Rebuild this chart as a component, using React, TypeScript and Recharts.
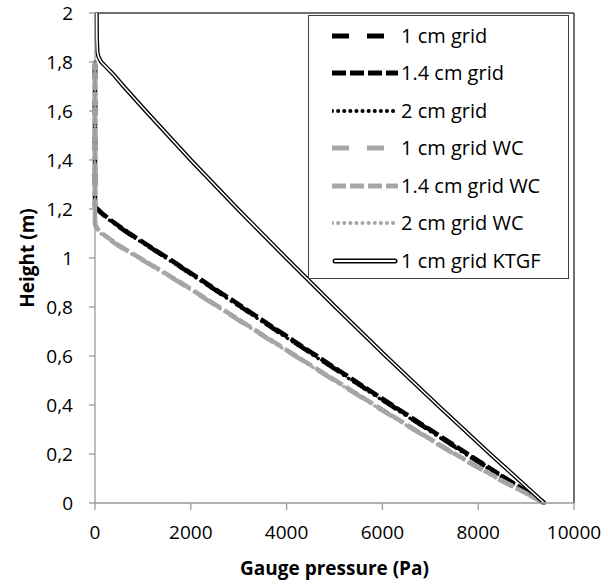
import React from 'react';
import { LineChart, Line, XAxis, YAxis, ReferenceLine, Legend } from 'recharts';

// axis ticks
const xTicks = [0, 2000, 4000, 6000, 8000, 10000];
const yTicks = [0, 0.2, 0.4, 0.6, 0.8, 1, 1.2, 1.4, 1.6, 1.8, 2];

// heights (m) for the plain grid runs
const gridHeights = [0, 0.1, 0.2, 0.3, 0.4, 0.5, 0.6, 0.7, 0.8, 0.9, 1.0, 1.1, 1.15, 1.18, 1.2, 1.21, 1.4, 1.6, 1.8];
// gauge pressure (Pa)
const grid1cm = [9380, 8560, 7750, 6960, 6170, 5380, 4600, 3820, 3050, 2280, 1500, 700, 340, 150, 40, 0, 0, 0, 0];
const grid14cm = [9380, 8580, 7780, 6990, 6200, 5410, 4630, 3850, 3080, 2300, 1520, 720, 360, 160, 50, 0, 0, 0, 0];
const grid2cm = [9380, 8540, 7730, 6940, 6150, 5360, 4580, 3800, 3030, 2260, 1480, 690, 330, 140, 30, 0, 0, 0, 0];

// WC runs
const wcHeights = [0, 0.1, 0.2, 0.3, 0.4, 0.5, 0.6, 0.7, 0.8, 0.9, 1.0, 1.05, 1.1, 1.12, 1.14, 1.4, 1.6, 1.8];
const wc1cm = [9380, 8400, 7500, 6650, 5820, 5000, 4180, 3370, 2570, 1770, 920, 490, 130, 40, 0, 0, 0, 0];
const wc14cm = [9380, 8420, 7520, 6670, 5840, 5020, 4200, 3390, 2590, 1790, 940, 510, 150, 50, 0, 0, 0, 0];
const wc2cm = [9380, 8390, 7490, 6640, 5810, 4990, 4170, 3360, 2560, 1760, 910, 480, 120, 35, 0, 0, 0, 0];

// KTGF run
const ktgfHeights = [0, 0.2, 0.4, 0.6, 0.8, 1.0, 1.2, 1.4, 1.6, 1.7, 1.75, 1.78, 1.8, 1.82, 1.84, 1.9, 2.0];
const ktgf1cm = [9380, 8250, 7150, 6070, 5020, 3990, 2980, 2000, 1060, 600, 380, 230, 130, 75, 50, 38, 35];

const toPoints = (ps: number[], hs: number[]) => ps.map((p, i) => ({ p, h: hs[i] }));

const FONT = '"Open Sans", sans-serif';
const GREY = '#a6a6a6';

type Series = { name: string; data: { p: number; h: number }[]; color: string; dash?: string; width: number; cap?: 'butt' | 'round' };

const series: Series[] = [
  { name: '1 cm grid', data: toPoints(grid1cm, gridHeights), color: '#000', dash: '17 18', width: 4.5 },
  { name: '1.4 cm grid', data: toPoints(grid14cm, gridHeights), color: '#000', dash: '14 4', width: 4.5 },
  { name: '2 cm grid', data: toPoints(grid2cm, gridHeights), color: '#000', dash: '0.1 6', width: 3.5, cap: 'round' },
  { name: '1 cm grid WC', data: toPoints(wc1cm, wcHeights), color: GREY, dash: '17 18', width: 4.5 },
  { name: '1.4 cm grid WC', data: toPoints(wc14cm, wcHeights), color: GREY, dash: '14 4', width: 4.5 },
  { name: '2 cm grid WC', data: toPoints(wc2cm, wcHeights), color: GREY, dash: '0.1 6', width: 3.5, cap: 'round' },
];
const ktgfData = toPoints(ktgf1cm, ktgfHeights);

const fmtY = (v: number) => String(Math.round(v * 10) / 10).replace('.', ',');

const renderLegend = () => (
  <div style={{ paddingTop: 1, fontFamily: FONT }}>
    {[...series.map(s => s.name), '1 cm grid KTGF'].map((name, i) => {
      const s = series[i];
      return (
        <div key={name} style={{ display: 'flex', alignItems: 'center', height: 37.5 }}>
          <svg width={66} height={12} style={{ marginLeft: 23 }}>
            {s ? (
              <line x1={0} y1={6} x2={66} y2={6} stroke={s.color} strokeWidth={s.width + 0.5}
                strokeDasharray={s.dash} strokeLinecap={s.cap || 'butt'} />
            ) : (
              <>
                <line x1={3} y1={6} x2={63} y2={6} stroke="#000" strokeWidth={5} strokeLinecap="round" />
                <line x1={3} y1={6} x2={63} y2={6} stroke="#fff" strokeWidth={2} strokeLinecap="round" />
              </>
            )}
          </svg>
          <span style={{ marginLeft: 3, fontSize: 20, lineHeight: 1, color: '#000' }}>{name}</span>
        </div>
      );
    })}
  </div>
);

export default function App() {
  return (
    <div style={{ position: 'absolute', left: 0, top: 0, background: '#fff' }}>
      <LineChart width={608} height={584} margin={{ top: 13, right: 34, left: 0, bottom: 0 }} style={{ fontFamily: FONT }}>
        <XAxis
          type="number"
          dataKey="p"
          domain={[0, 10000]}
          ticks={xTicks}
          height={81}
          tickSize={7}
          tickMargin={16}
          stroke="#999"
          strokeWidth={1.3}
          tick={{ fill: '#000', fontSize: 19, fontFamily: FONT }}
          label={{ value: 'Gauge pressure (Pa)', position: 'insideBottom', offset: 9, style: { fontWeight: 'bold', fontSize: 19, fill: '#000', fontFamily: FONT } }}
        />
        <YAxis
          type="number"
          dataKey="h"
          domain={[0, 2]}
          ticks={yTicks}
          width={95}
          tickSize={6}
          tickMargin={16}
          stroke="#999"
          strokeWidth={1.3}
          tickFormatter={fmtY}
          tick={{ fill: '#000', fontSize: 19, fontFamily: FONT }}
          label={{ value: 'Height (m)', angle: -90, position: 'insideLeft', offset: 27, style: { textAnchor: 'middle', fontWeight: 'bold', fontSize: 19, fill: '#000', fontFamily: FONT } }}
        />
        <ReferenceLine y={2} stroke="#404040" strokeWidth={1.5} />
        <ReferenceLine x={10000} stroke="#404040" strokeWidth={1.5} />
        {series.map(s => (
          <Line key={s.name} data={s.data} dataKey="h" name={s.name} type="linear"
            stroke={s.color} strokeWidth={s.width} strokeDasharray={s.dash} strokeLinecap={s.cap || 'butt'}
            dot={false} activeDot={false} isAnimationActive={false} />
        ))}
        <Line data={ktgfData} dataKey="h" name="1 cm grid KTGF" type="linear" stroke="#000" strokeWidth={4.2}
          dot={false} activeDot={false} isAnimationActive={false} />
        <Line data={ktgfData} dataKey="h" name="ktgf-inner" type="linear" stroke="#fff" strokeWidth={1.6}
          dot={false} activeDot={false} isAnimationActive={false} legendType="none" />
        <Legend
          layout="vertical"
          align="center"
          verticalAlign="middle"
          content={renderLegend}
          wrapperStyle={{ top: 15, left: 308, width: 261, height: 264, border: '1.5px solid #404040', background: '#fff', boxSizing: 'border-box' }}
        />
      </LineChart>
    </div>
  );
}
